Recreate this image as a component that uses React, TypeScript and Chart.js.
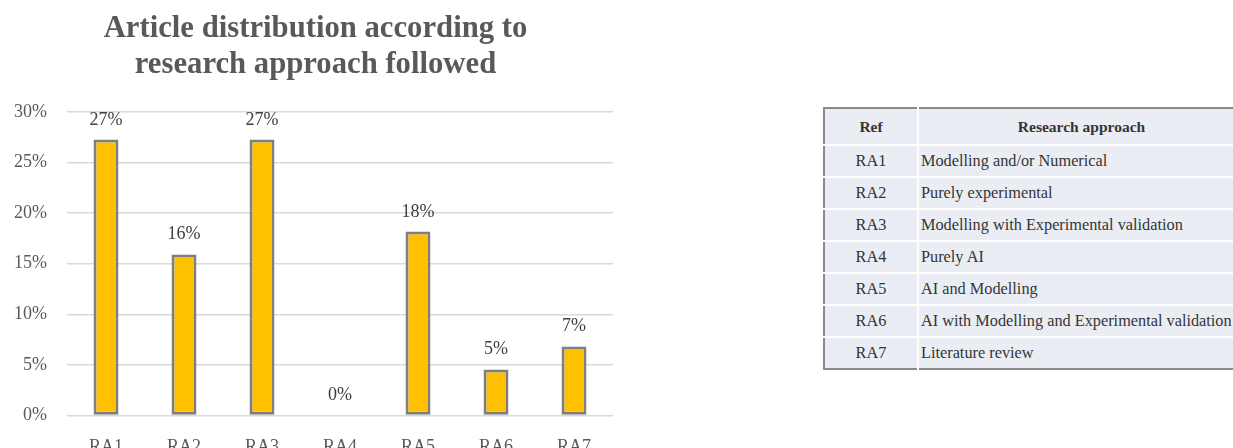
import React, { useEffect, useRef } from "react";
import { Chart, registerables } from "chart.js";

Chart.register(...registerables);

const categories = ["RA1", "RA2", "RA3", "RA4", "RA5", "RA6", "RA7"];
const shares = [27.27, 15.91, 27.27, 0, 18.18, 4.55, 6.82];
const yMax = 30;
const yStep = 5;
const titleLines = ["Article distribution according to", "research approach followed"];
const tableHeader = ["Ref", "Research approach"];
const tableRefs = ["RA1", "RA2", "RA3", "RA4", "RA5", "RA6", "RA7"];
const tableApproaches = [
  "Modelling and/or Numerical",
  "Purely experimental",
  "Modelling with Experimental validation",
  "Purely AI",
  "AI and Modelling",
  "AI with Modelling and Experimental validation",
  "Literature review",
];

const FONT = "'Liberation Serif', 'Times New Roman', serif";

const valueLabels = {
  id: "valueLabels",
  afterDatasetsDraw(chart: any) {
    const ctx = chart.ctx;
    const meta = chart.getDatasetMeta(0);
    ctx.save();
    ctx.font = `18px ${FONT}`;
    ctx.fillStyle = "#404040";
    ctx.textAlign = "center";
    ctx.textBaseline = "alphabetic";
    meta.data.forEach((bar: any, i: number) => {
      const v = chart.data.datasets[0].data[i] as number;
      ctx.fillText(`${Math.round(v)}%`, bar.x, bar.y - 15);
    });
    ctx.restore();
  },
};

// Title centred on the whole canvas (Chart.js' own title centres on the padded box)
const centredTitle = {
  id: "centredTitle",
  afterDraw(chart: any) {
    const ctx = chart.ctx;
    ctx.save();
    ctx.font = `bold 30.7px ${FONT}`;
    ctx.fillStyle = "#595959";
    ctx.textAlign = "center";
    ctx.textBaseline = "alphabetic";
    titleLines.forEach((line, i) => {
      ctx.fillText(line, chart.width / 2, 37 + i * 36);
    });
    ctx.restore();
  },
};

function BarChart() {
  const ref = useRef<HTMLCanvasElement>(null);
  useEffect(() => {
    if (!ref.current) return;
    const chart = new Chart(ref.current, {
      type: "bar",
      data: {
        labels: categories,
        datasets: [
          {
            data: shares,
            backgroundColor: "#FFC000",
            borderColor: "#7F7F7F",
            borderWidth: 3,
            borderSkipped: false,
            categoryPercentage: 0.8,
            barPercentage: 0.4,
          },
        ],
      },
      options: {
        animation: false,
        responsive: false,
        layout: { padding: { left: 0, right: 18, top: 112, bottom: 8 } },
        plugins: {
          legend: { display: false },
          tooltip: { enabled: false },
          title: { display: false },
        },
        scales: {
          x: {
            grid: { display: false },
            border: { display: false },
            ticks: { color: "#595959", font: { family: FONT, size: 18 }, padding: 13 },
          },
          y: {
            min: 0,
            max: yMax,
            border: { display: false },
            grid: { color: "#D9D9D9", lineWidth: 1.5, drawTicks: false },
            afterFit: (scale: any) => {
              scale.width = 67;
            },
            ticks: {
              stepSize: yStep,
              color: "#595959",
              font: { family: FONT, size: 18 },
              padding: 20,
              callback: (v: any) => `${v}%`,
            },
          },
        },
      },
      plugins: [valueLabels, centredTitle],
    });
    return () => chart.destroy();
  }, []);
  return (
    <canvas
      ref={ref}
      width={631}
      height={479}
      style={{ position: "absolute", left: 0, top: 0, width: 631, height: 479 }}
    />
  );
}

function RefTable() {
  const cell: React.CSSProperties = {
    borderBottom: "2px solid #ffffff",
    padding: 0,
    height: 30,
    color: "#353535",
    fontFamily: FONT,
    fontSize: 16.3,
    whiteSpace: "nowrap",
  };
  return (
    <div
      style={{
        position: "absolute",
        left: 823,
        top: 107,
        width: 410,
        height: 264,
        overflow: "hidden",
      }}
    >
      <table
        style={{
          borderCollapse: "collapse",
          width: 420,
          background: "#EAEDF4",
          borderTop: "2px solid #8A8A8A",
          borderLeft: "2px solid #8A8A8A",
          borderBottom: "2px solid #8A8A8A",
          tableLayout: "fixed",
        }}
      >
        <colgroup>
          <col style={{ width: 94 }} />
          <col style={{ width: 326 }} />
        </colgroup>
        <thead>
          <tr>
            <th style={{ ...cell, height: 35, fontSize: 15.5, fontWeight: "bold", textAlign: "center", borderRight: "2px solid #ffffff" }}>
              {tableHeader[0]}
            </th>
            <th style={{ ...cell, height: 35, fontSize: 15.5, fontWeight: "bold", textAlign: "center" }}>{tableHeader[1]}</th>
          </tr>
        </thead>
        <tbody>
          {tableRefs.map((r, i) => (
            <tr key={r}>
              <td style={{ ...cell, textAlign: "center", borderRight: "2px solid #ffffff", borderBottom: i === tableRefs.length - 1 ? "none" : cell.borderBottom }}>
                {r}
              </td>
              <td style={{ ...cell, paddingLeft: 2, borderBottom: i === tableRefs.length - 1 ? "none" : cell.borderBottom }}>
                {tableApproaches[i]}
              </td>
            </tr>
          ))}
        </tbody>
      </table>
    </div>
  );
}

export default function App() {
  return (
    <div
      style={{
        position: "absolute",
        left: 0,
        top: 0,
        width: 1233,
        height: 448,
        overflow: "hidden",
        background: "#ffffff",
      }}
    >
      <BarChart />
      <RefTable />
    </div>
  );
}
